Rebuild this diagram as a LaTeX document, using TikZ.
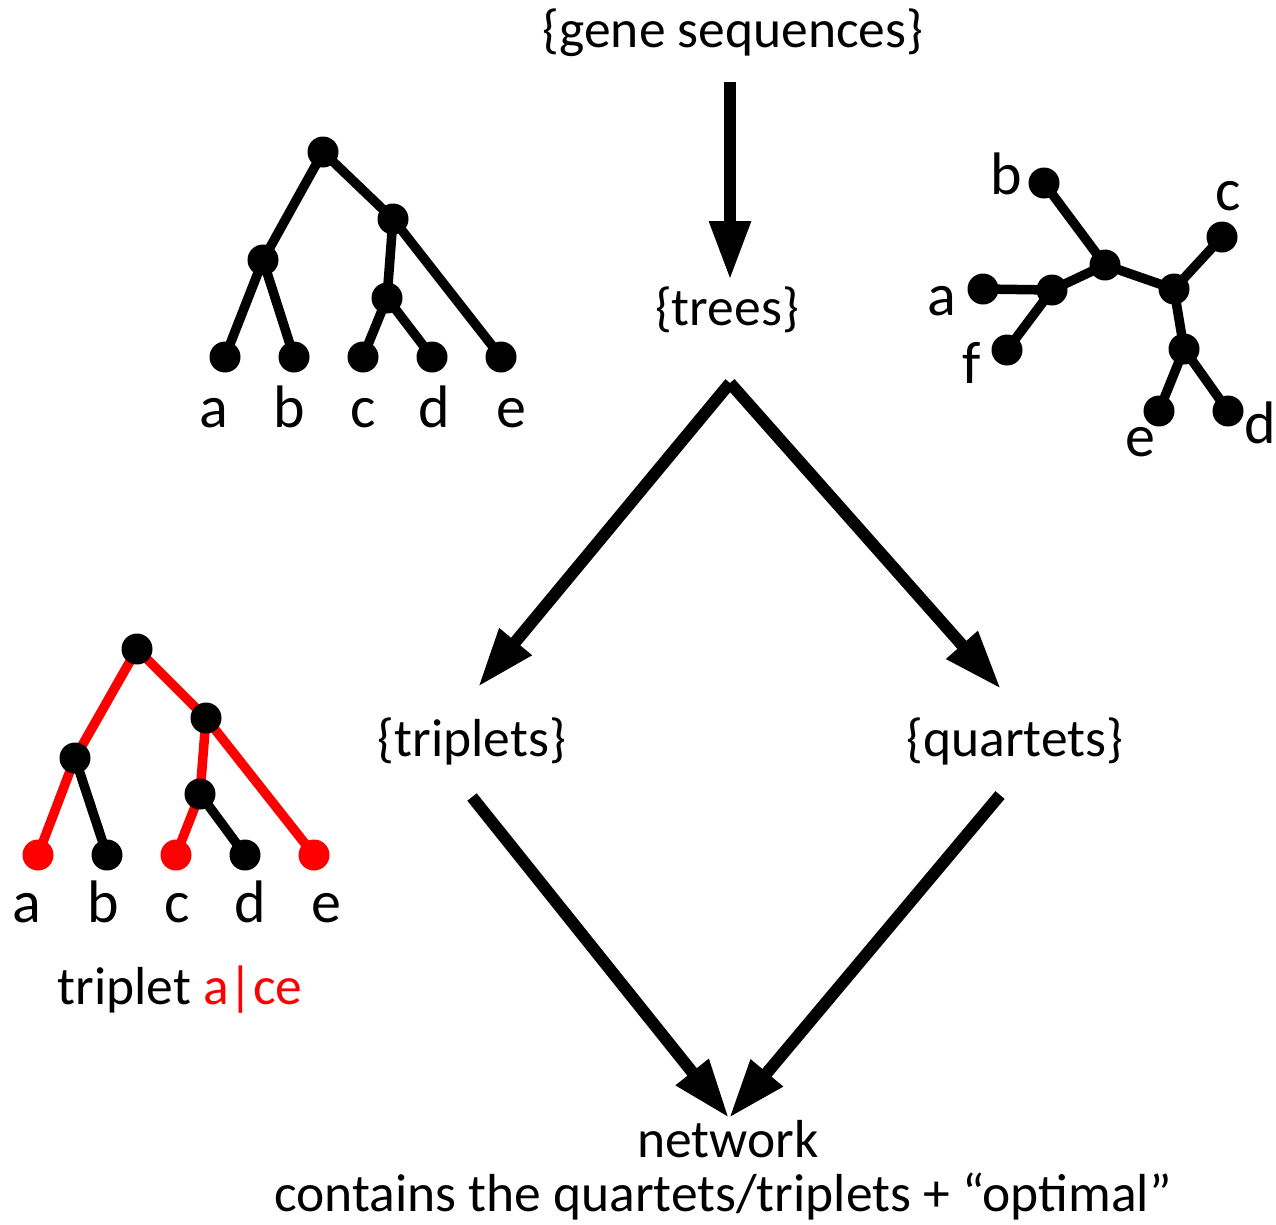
\documentclass[tikz,border=0pt]{standalone}
\usepackage{fontspec}
\setmainfont{Carlito}
\usetikzlibrary{arrows.meta,backgrounds}
\definecolor{tred}{RGB}{255,0,0}
\begin{document}
\begin{tikzpicture}[x=1pt,y=-1pt,
  txt/.style={font=\fontsize{53.5}{62}\selectfont, inner sep=0pt, anchor=base},
  lbl/.style={font=\fontsize{60}{70}\selectfont, inner sep=0pt, anchor=base},
  dot/.style={circle, fill=black, minimum size=31pt, inner sep=0pt},
  rdot/.style={dot, fill=tred},
  edge/.style={line width=9.5pt},
  redge/.style={edge, draw=tred},
  bigarrow/.style={line width=12pt, -{Triangle[length=59pt,width=39pt]}}]
\useasboundingbox (0,0) rectangle (1276,1224);

% ---------- flow texts ----------
\node[txt] (gene) at (733,47) {\{gene sequences\}};
\node[txt] (trees) at (727,325) {\{trees\}};
\node[txt] (trip) at (472,756) {\{triplets\}};
\node[txt] (quart) at (1015,756) {\{quartets\}};
\node[txt] (net) at (728,1157) {network};
\node[txt] (cont) at (723,1211) {contains the quartets/triplets + “optimal”};

% ---------- flow arrows ----------
\coordinate (a1s) at (730,82);
\coordinate (a1e) at (730,280);
\coordinate (apex) at (730,383);
\coordinate (a2e) at (478,687);
\coordinate (a3e) at (1001,689);
\coordinate (a4s) at (472,797);
\coordinate (a5s) at (1000,795);
\coordinate (a45e) at (729,1118);
\draw[bigarrow] (a1s) -- (a1e);
\draw[bigarrow] (apex) -- (a2e);
\draw[bigarrow] (apex) -- (a3e);
\draw[bigarrow] (a4s) -- (a45e);
\draw[bigarrow] (a5s) -- (a45e);

% ---------- rooted tree (top left) ----------
\node[dot] (tr) at (323,152) {};
\node[dot] (tl) at (263,260) {};
\node[dot] (trr) at (393,219) {};
\node[dot] (tcd) at (387,298) {};
\node[dot] (ta) at (225,357) {};
\node[dot] (tb) at (294,357) {};
\node[dot] (tc) at (363,357) {};
\node[dot] (td) at (432,357) {};
\node[dot] (te) at (501,357) {};
\begin{scope}[on background layer]
\draw[edge] (tr.center) -- (tl.center);
\draw[edge] (tr.center) -- (trr.center);
\draw[edge] (tl.center) -- (ta.center);
\draw[edge] (tl.center) -- (tb.center);
\draw[edge] (trr.center) -- (tcd.center);
\draw[edge] (trr.center) -- (te.center);
\draw[edge] (tcd.center) -- (tc.center);
\draw[edge] (tcd.center) -- (td.center);
\end{scope}
\node[lbl] (tla) at (214,427) {a};
\node[lbl] (tlb) at (289,427) {b};
\node[lbl] (tlc) at (363,427) {c};
\node[lbl] (tld) at (434,427) {d};
\node[lbl] (tle) at (511,427) {e};

% ---------- unrooted tree (top right) ----------
\node[dot] (ub) at (1044,183) {};
\node[dot] (uc) at (1222,237) {};
\node[dot] (u1) at (1105,265) {};
\node[dot] (u2) at (1174,289) {};
\node[dot] (uaj) at (1052,290) {};
\node[dot] (ua) at (983,289) {};
\node[dot] (uf) at (1007,350) {};
\node[dot] (ued) at (1184,349) {};
\node[dot] (ue) at (1159,411) {};
\node[dot] (ud) at (1228,411) {};
\begin{scope}[on background layer]
\draw[edge] (ub.center) -- (u1.center);
\draw[edge] (u1.center) -- (u2.center);
\draw[edge] (u2.center) -- (uc.center);
\draw[edge] (u1.center) -- (uaj.center);
\draw[edge] (uaj.center) -- (ua.center);
\draw[edge] (uaj.center) -- (uf.center);
\draw[edge] (u2.center) -- (ued.center);
\draw[edge] (ued.center) -- (ue.center);
\draw[edge] (ued.center) -- (ud.center);
\end{scope}
\node[lbl] (ulb) at (1006,194) {b};
\node[lbl] (ulc) at (1228,210) {c};
\node[lbl] (ula) at (942,315) {a};
\node[lbl] (ulf) at (972,383) {f};
\node[lbl] (ule) at (1140,456) {e};
\node[lbl] (uld) at (1260,443) {d};

% ---------- triplet tree (bottom left) ----------
\node[dot] (pr) at (137,649) {};
\node[dot] (pl) at (75,758) {};
\node[dot] (prr) at (206,718) {};
\node[dot] (pcd) at (200,794) {};
\node[rdot] (pa) at (38,855) {};
\node[dot] (pb) at (107,855) {};
\node[rdot] (pc) at (176,855) {};
\node[dot] (pd) at (245,855) {};
\node[rdot] (pe) at (314,855) {};
\begin{scope}[on background layer]
\draw[redge] (pr.center) -- (pl.center);
\draw[redge] (pr.center) -- (prr.center);
\draw[redge] (pl.center) -- (pa.center);
\draw[edge] (pl.center) -- (pb.center);
\draw[redge] (prr.center) -- (pcd.center);
\draw[redge] (prr.center) -- (pe.center);
\draw[redge] (pcd.center) -- (pc.center);
\draw[edge] (pcd.center) -- (pd.center);
\end{scope}
\node[lbl] (pla) at (27,922) {a};
\node[lbl] (plb) at (103,922) {b};
\node[lbl] (plc) at (177,922) {c};
\node[lbl] (pld) at (250,922) {d};
\node[lbl] (ple) at (326,922) {e};
\node[txt] (tripcap) at (180,1004) {triplet \textcolor{tred}{a|ce}};
\end{tikzpicture}
\end{document}
